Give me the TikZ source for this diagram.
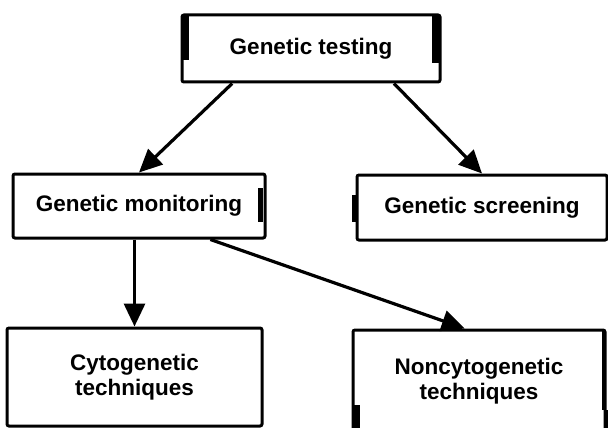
\documentclass[tikz,border=0pt]{standalone}
\usepackage{fontspec}
\setmainfont{Liberation Sans}
\usetikzlibrary{arrows.meta,calc}
\begin{document}
\begin{tikzpicture}[x=1pt,y=-1pt,
  box/.style={draw, line width=3pt, rounded corners=2pt, inner sep=0pt, align=center,
    font=\fontsize{22.5}{25.5}\selectfont\bfseries},
  conn/.style={line width=3.2pt, -{Triangle[length=23pt,width=21pt]}},
  edgebar/.style={fill=black}]
\useasboundingbox (0,0) rectangle (608,428);
\clip (0,0) rectangle (608,428);
\node[box, minimum width=258pt, minimum height=67pt] (testing) at (311,48.5) {Genetic testing};
\node[box, minimum width=252pt, minimum height=64pt] (monitoring) at (139,206) {Genetic monitoring};
\node[box, minimum width=250pt, minimum height=65pt] (screening) at (482,207.5) {Genetic screening};
\node[box, minimum width=255pt, minimum height=98pt] (cyto) at (134.5,377) {Cytogenetic\\techniques};
\node[box, minimum width=252pt, minimum height=102pt] (noncyto) at (479,381) {Noncytogenetic\\techniques};
% heavy edge marks of the printed frames
\fill[edgebar] (182,15) rectangle (189,60);
\fill[edgebar] (432,15) rectangle (441,63);
\fill[edgebar] (258,188) rectangle (263,222);
\fill[edgebar] (352,195) rectangle (357,222);
\fill[edgebar] (353,405) rectangle (360,428);
\fill[edgebar] (602,330) rectangle (606,410);
\fill[edgebar] (604,410) rectangle (608,428);
% connectors
\draw[conn] ($(testing.south west)!0.198!(testing.south east)$) -- (monitoring.north);
\draw[conn] ($(testing.south west)!0.818!(testing.south east)$) -- (screening.north);
\draw[conn] (monitoring.south -| cyto.north) -- (cyto.north);
\draw[conn] ($(monitoring.south west)!0.78!(monitoring.south east)$) -- ($(noncyto.north west)!0.444!(noncyto.north east)$);
\end{tikzpicture}
\end{document}
